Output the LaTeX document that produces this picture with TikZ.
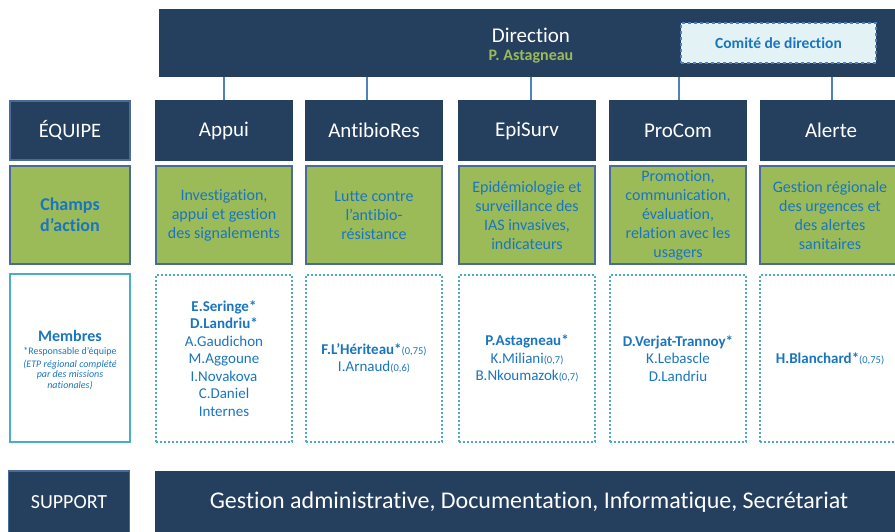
\documentclass[tikz,border=0pt]{standalone}
\usepackage{fontspec}
\setmainfont[Ligatures=NoCommon]{Carlito}
\definecolor{navy}{HTML}{253F5F}
\definecolor{leaf}{HTML}{9BBB59}
\definecolor{edgeblue}{HTML}{4A6A98}
\definecolor{txtblue}{HTML}{1A75C0}
\definecolor{teal}{HTML}{4BACC6}
\definecolor{conn}{HTML}{4F81BD}
\definecolor{comfill}{HTML}{E2F2F5}
\begin{document}
\begin{tikzpicture}[x=1pt,y=-1pt,
  teambox/.style={fill=navy,text=white,minimum width=138,minimum height=61,inner sep=0,font=\fontsize{21}{25}\selectfont},
  champbox/.style={fill=leaf,draw=edgeblue,line width=2pt,minimum width=136,minimum height=98,inner sep=0,align=center,text=txtblue,font=\fontsize{16}{19}\selectfont},
  membbox/.style={draw=teal,line width=2pt,dash pattern=on 2pt off 2pt,minimum width=136,minimum height=167,inner sep=0,align=center,text=txtblue,font=\fontsize{15}{17.5}\selectfont},
  link/.style={draw=conn,line width=2pt}]
\useasboundingbox (0,0) rectangle (895,531);
\clip (0,0) rectangle (895,531);
% Direction
\node[fill=navy,minimum width=744,minimum height=68,inner sep=0] (dir) at (531,43) {};
\node[text=white,font=\fontsize{21}{25}\selectfont,inner sep=0] (dirt) at (531,35) {Direction};
\node[text=leaf,font=\fontsize{16}{18}\selectfont\bfseries,inner sep=0] (dirp) at (531,57) {P. Astagneau};
\node[fill=comfill,draw=conn,line width=1.2pt,dashed,minimum width=195,minimum height=40,inner sep=0,text=txtblue,font=\fontsize{15.5}{18}\selectfont\bfseries] (comite) at (778.5,43) {Comité de direction};
% left column
\node[fill=navy,draw=edgeblue,line width=2pt,minimum width=120,minimum height=59,inner sep=0,text=white,font=\fontsize{20.5}{24}\selectfont] (equipe) at (70,130.5) {ÉQUIPE};
\node[champbox,minimum width=120,font=\fontsize{18}{21}\selectfont\bfseries] (champs) at (70,215) {Champs\\d’action};
\node[draw=teal,line width=2.5pt,minimum width=120,minimum height=168,inner sep=0] (membres) at (70,358) {};
\node[text=txtblue,font=\fontsize{16}{18}\selectfont\bfseries,inner sep=0] (membrest) at (70,336) {Membres};
\node[text=txtblue,font=\fontsize{10}{11}\selectfont,inner sep=0] (resp) at (70,352) {*Responsable d’équipe};
\node[text=txtblue,font=\fontsize{10}{10.5}\selectfont\itshape,inner sep=0,align=center] (etp) at (70,375) {(ETP régional complété\\par des missions\\nationales)};
% teams
\node[teambox] (appui) at (224,130.5) {Appui};
\node[teambox] (anti) at (374,130.5) {AntibioRes};
\node[teambox] (epi) at (527,130.5) {EpiSurv};
\node[teambox] (procom) at (678,130.5) {ProCom};
\node[teambox,minimum width=142] (alerte) at (831,130.5) {Alerte};
% champs
\node[champbox] (cappui) at (224,215) {Investigation,\\appui et gestion\\des signalements};
\node[champbox] (canti) at (374,215) {Lutte contre\\l’antibio-\\résistance};
\node[champbox] (cepi) at (527,215) {Epidémiologie et\\surveillance des\\IAS invasives,\\indicateurs};
\node[champbox] (cprocom) at (678,215) {Promotion,\\communication,\\évaluation,\\relation avec les\\usagers};
\node[champbox,minimum width=140] (calerte) at (830,215) {Gestion régionale\\des urgences et\\des alertes\\sanitaires};
% membres
\node[membbox] (mappui) at (224,358.5) {\textbf{E.Seringe*}\\\textbf{D.Landriu*}\\A.Gaudichon\\M.Aggoune\\I.Novakova\\C.Daniel\\Internes};
\node[membbox] (manti) at (374,358.5) {\textbf{F.L’Hériteau*}{\fontsize{10.5}{12}\selectfont(0,75)}\\I.Arnaud{\fontsize{10.5}{12}\selectfont(0,6)}};
\node[membbox] (mepi) at (527,358.5) {\textbf{P.Astagneau*}\\K.Miliani{\fontsize{10.5}{12}\selectfont(0,7)}\\B.Nkoumazok{\fontsize{10.5}{12}\selectfont(0,7)}};
\node[membbox] (mprocom) at (678,358.5) {\textbf{D.Verjat-Trannoy*}\\K.Lebascle\\D.Landriu};
\node[membbox,minimum width=140] (malerte) at (830,358.5) {\textbf{H.Blanchard*}{\fontsize{10.5}{12}\selectfont(0,75)}};
% support
\node[fill=navy,draw=edgeblue,line width=1.5pt,minimum width=121,minimum height=62,inner sep=0,text=white,font=\fontsize{20}{24}\selectfont] (support) at (69,502) {SUPPORT};
\node[fill=navy,minimum width=745,minimum height=64,inner sep=0] (gestion) at (527.5,503) {};
\node[text=white,font=\fontsize{24}{28}\selectfont,inner sep=0] (gestiont) at (529,502) {Gestion administrative, Documentation, Informatique, Secrétariat};
% connectors
\draw[link] (appui.north) -- (appui.north |- dir.south);
\draw[link] ([xshift=-7pt]anti.north) -- ([xshift=-7pt]anti.north |- dir.south);
\draw[link] ([xshift=4pt]epi.north) -- ([xshift=4pt]epi.north |- dir.south);
\draw[link] ([xshift=1pt]procom.north) -- ([xshift=1pt]procom.north |- dir.south);
\draw[link] ([xshift=1pt]alerte.north) -- ([xshift=1pt]alerte.north |- dir.south);
\end{tikzpicture}
\end{document}
